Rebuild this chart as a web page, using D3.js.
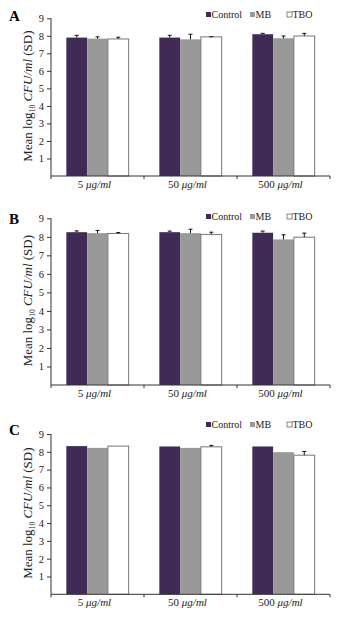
<!DOCTYPE html>
<html>
<head>
<meta charset="utf-8">
<script src="https://cdn.jsdelivr.net/npm/d3@7"></script>
<style>
  body { margin: 0; background: #fff; }
  svg { display: block; font-family: "Liberation Serif", "Times New Roman", serif; }
</style>
</head>
<body>
<div id="chart"></div>
<script>
// doses along the x axis and the three treatments in each group
const doses = ["5", "50", "500"];
const treatments = ["Control", "MB", "TBO"];
const yTicks = [1, 2, 3, 4, 5, 6, 7, 8, 9];

// mean log10 CFU/ml per dose (rows) and treatment (columns), with SD
const meansA = [[7.90, 7.84, 7.82], [7.90, 7.80, 7.94], [8.09, 7.86, 7.99]];
const sdA = [[0.13, 0.10, 0.10], [0.13, 0.29, 0.01], [0.05, 0.13, 0.15]];
const meansB = [[8.25, 8.20, 8.18], [8.25, 8.20, 8.13], [8.22, 7.86, 7.98]];
const sdB = [[0.07, 0.14, 0.05], [0.06, 0.21, 0.12], [0.09, 0.25, 0.22]];
const meansC = [[8.32, 8.22, 8.32], [8.30, 8.22, 8.28], [8.30, 7.98, 7.81]];
const sdC = [[0, 0, 0], [0, 0, 0.08], [0, 0, 0.21]];

const colors = { Control: "#3f2b56", MB: "#999999", TBO: "#ffffff" };

const W = 337, H = 617;
const svg = d3.select("#chart").append("svg")
    .attr("width", W)
    .attr("height", H);

const panels = [
  { label: "A", means: meansA, sd: sdA, top: 18.3, base: 176, legendY: 15, labelY: 21 },
  { label: "B", means: meansB, sd: sdB, top: 218.3, base: 385, legendY: 217, labelY: 224 },
  { label: "C", means: meansC, sd: sdC, top: 434, base: 594.3, legendY: 425, labelY: 435 }
];

const x0 = d3.scaleBand()
    .domain(doses)
    .range([51, 330])
    .paddingInner(0.33)
    .paddingOuter(0.165);

const x1 = d3.scaleBand()
    .domain(treatments)
    .range([0, x0.bandwidth()]);

panels.forEach(p => {
  const g = svg.append("g");

  const y = d3.scaleLinear()
      .domain([0, 9])
      .range([p.base, p.top]);

  // panel letter
  g.append("text")
      .attr("x", 9)
      .attr("y", p.labelY)
      .style("font-size", "15px")
      .style("font-weight", "bold")
      .text(p.label);

  // bars
  const rows = doses.map((d, i) => treatments.map((t, j) => ({
    dose: d, treatment: t, mean: p.means[i][j], sd: p.sd[i][j]
  }))).flat();

  g.selectAll("rect.bar")
    .data(rows)
    .enter().append("rect")
      .attr("class", "bar")
      .attr("x", d => x0(d.dose) + x1(d.treatment))
      .attr("width", x1.bandwidth())
      .attr("y", d => y(d.mean))
      .attr("height", d => y(0) - y(d.mean))
      .attr("fill", d => colors[d.treatment])
      .attr("stroke", d => d.treatment === "TBO" ? "#777" : "none")
      .attr("stroke-width", 1);

  // upper error bars
  const errs = rows.filter(d => d.sd > 0);
  g.selectAll("line.err")
    .data(errs)
    .enter().append("line")
      .attr("x1", d => x0(d.dose) + x1(d.treatment) + x1.bandwidth() / 2)
      .attr("x2", d => x0(d.dose) + x1(d.treatment) + x1.bandwidth() / 2)
      .attr("y1", d => y(d.mean))
      .attr("y2", d => y(d.mean + d.sd))
      .attr("stroke", "#111")
      .attr("stroke-width", 1);

  g.selectAll("line.cap")
    .data(errs)
    .enter().append("line")
      .attr("x1", d => x0(d.dose) + x1(d.treatment) + x1.bandwidth() / 2 - 2)
      .attr("x2", d => x0(d.dose) + x1(d.treatment) + x1.bandwidth() / 2 + 2)
      .attr("y1", d => y(d.mean + d.sd))
      .attr("y2", d => y(d.mean + d.sd))
      .attr("stroke", "#111")
      .attr("stroke-width", 1);

  // y axis
  const yAxis = g.append("g")
      .attr("transform", "translate(51,0)")
      .call(d3.axisLeft(y).tickValues(yTicks).tickSize(4).tickPadding(3).tickSizeOuter(0));
  yAxis.select(".domain").attr("stroke", "#333").attr("d", `M0,${y(0)}V${y(9)}`);
  yAxis.selectAll(".tick line").attr("stroke", "#333");
  yAxis.selectAll(".tick text")
      .style("font-family", "Liberation Serif, serif")
      .style("font-size", "10.5px")
      .attr("fill", "#222");

  // x axis with ticks at the group boundaries
  const bounds = [51, ...doses.slice(1).map(d => x0(d) - x0.step() * x0.paddingInner() / 2), 330];
  g.append("line")
      .attr("x1", 51).attr("x2", 330)
      .attr("y1", y(0)).attr("y2", y(0))
      .attr("stroke", "#333");
  g.selectAll("line.xt")
    .data(bounds)
    .enter().append("line")
      .attr("x1", d => d).attr("x2", d => d)
      .attr("y1", y(0)).attr("y2", y(0) + 3)
      .attr("stroke", "#333");

  const xl = g.selectAll("text.xl")
    .data(doses)
    .enter().append("text")
      .attr("x", d => x0(d) + x0.bandwidth() / 2 - 3)
      .attr("y", y(0) + 12)
      .attr("text-anchor", "middle")
      .style("font-size", "11px")
      .attr("fill", "#222");
  xl.append("tspan").text(d => d + " ");
  xl.append("tspan").style("font-style", "italic").text("μg/ml");

  // y axis title
  const yt = g.append("text")
      .attr("transform", `translate(32,${(y(0) + y(9)) / 2 - 1}) rotate(-90)`)
      .attr("text-anchor", "middle")
      .style("font-size", "13px")
      .attr("fill", "#222");
  yt.append("tspan").text("Mean log");
  yt.append("tspan").attr("dy", 3).style("font-size", "7.5px").text("10");
  yt.append("tspan").attr("dy", -3).text(" ");
  yt.append("tspan").style("font-style", "italic").text("CFU/ml");
  yt.append("tspan").text(" (SD)");

  // legend
  const legendX = [206, 250, 287];
  const lg = g.selectAll("g.lg")
    .data(treatments)
    .enter().append("g")
      .attr("transform", (d, i) => `translate(${legendX[i]},${p.legendY})`);
  lg.append("rect")
      .attr("x", 0).attr("y", -3)
      .attr("width", 5).attr("height", 5)
      .attr("fill", d => colors[d])
      .attr("stroke", d => d === "TBO" ? "#555" : "none")
      .attr("stroke-width", 0.7);
  lg.append("text")
      .attr("x", 5.5)
      .attr("y", 3)
      .style("font-size", "10px")
      .attr("fill", "#222")
      .text(d => d);
});
</script>
</body>
</html>
